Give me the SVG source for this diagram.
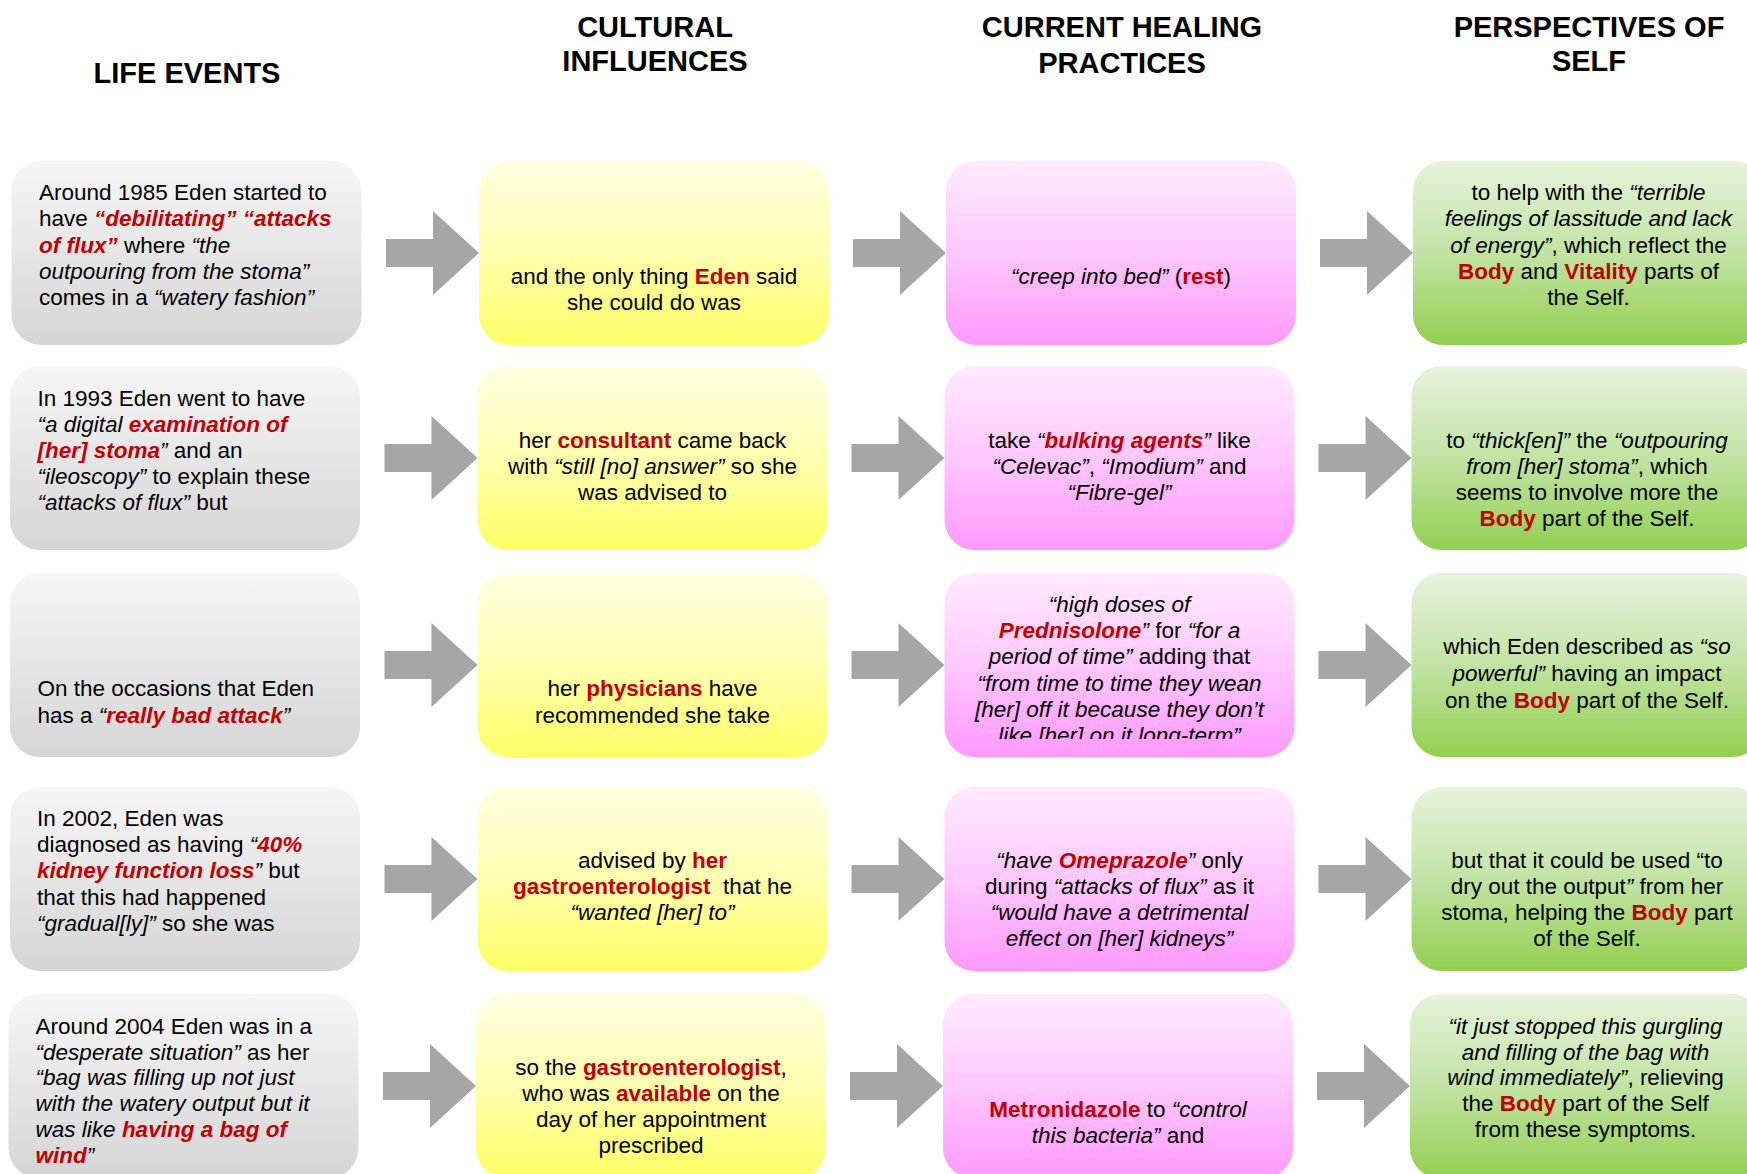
<svg xmlns="http://www.w3.org/2000/svg" width="1747" height="1174" viewBox="0 0 1747 1174">
<style>
text{font-family:"Liberation Sans",Arial,sans-serif;font-size:22.5px;fill:#000}
.h{font-size:29px;font-weight:bold;text-anchor:middle}
.c{text-anchor:middle}
.i{font-style:italic}
.r{font-weight:bold;fill:#c00000}
.ri{font-weight:bold;font-style:italic;fill:#c00000}
.arrow{fill:#a6a6a6}
</style>
<defs>
<linearGradient id="gGray" x1="0" y1="0" x2="0" y2="1"><stop offset="0" stop-color="#f6f6f6"/><stop offset="1" stop-color="#d5d5d5"/></linearGradient>
<linearGradient id="gYel" x1="0" y1="0" x2="0" y2="1"><stop offset="0" stop-color="#ffffe2"/><stop offset="0.5" stop-color="#ffffb0"/><stop offset="1" stop-color="#ffff66"/></linearGradient>
<linearGradient id="gPink" x1="0" y1="0" x2="0" y2="1"><stop offset="0" stop-color="#ffebff"/><stop offset="0.5" stop-color="#ffc8ff"/><stop offset="1" stop-color="#ff99ff"/></linearGradient>
<linearGradient id="gGreen" x1="0" y1="0" x2="0" y2="1"><stop offset="0" stop-color="#e7f3dc"/><stop offset="0.5" stop-color="#c2e3a4"/><stop offset="1" stop-color="#92d050"/></linearGradient>
<path id="arr" d="M386,239 H433 V211 L479,253 L433,295 V267 H386 Z"/>
<clipPath id="clipR3C3"><rect x="940" y="573" width="360" height="166"/></clipPath>
</defs>
<rect width="1747" height="1174" fill="#fff"/>

<g id="headers">
<text class="h" x="187" y="83">LIFE EVENTS</text>
<text class="h" x="655" y="37">CULTURAL</text>
<text class="h" x="655" y="71">INFLUENCES</text>
<text class="h" x="1122" y="37">CURRENT HEALING</text>
<text class="h" x="1122" y="72.5">PRACTICES</text>
<text class="h" x="1589" y="37">PERSPECTIVES OF</text>
<text class="h" x="1589" y="71">SELF</text>
</g>

<g id="connectors" class="arrow">
<use href="#arr"/>
<use href="#arr" transform="translate(467,0)"/>
<use href="#arr" transform="translate(934,0)"/>
<use href="#arr" transform="translate(-1.5,205)"/>
<use href="#arr" transform="translate(465.5,205)"/>
<use href="#arr" transform="translate(932.5,205)"/>
<use href="#arr" transform="translate(-1.5,412)"/>
<use href="#arr" transform="translate(465.5,412)"/>
<use href="#arr" transform="translate(932.5,412)"/>
<use href="#arr" transform="translate(-1.5,626)"/>
<use href="#arr" transform="translate(465.5,626)"/>
<use href="#arr" transform="translate(932.5,626)"/>
<use href="#arr" transform="translate(-3,833)"/>
<use href="#arr" transform="translate(464,833)"/>
<use href="#arr" transform="translate(931,833)"/>
</g>

<!-- Row 1 -->
<g id="r1c1">
<rect x="11.5" y="161" width="350" height="184" rx="30" fill="url(#gGray)"/>
<text><tspan x="39" y="199.5">Around 1985 Eden started to</tspan><tspan x="39" y="226">have <tspan class="ri">“debilitating” “attacks</tspan></tspan><tspan x="39" y="252.5"><tspan class="ri">of flux”</tspan> where <tspan class="i">“the</tspan></tspan><tspan x="39" y="279" class="i">outpouring from the stoma”</tspan><tspan x="39" y="305">comes in a <tspan class="i">“watery fashion”</tspan></tspan></text>
</g>
<g id="r1c2">
<rect x="479" y="161" width="350" height="184" rx="30" fill="url(#gYel)"/>
<text class="c"><tspan x="654" y="284.3">and the only thing <tspan class="r">Eden</tspan> said</tspan><tspan x="654" y="310.3">she could do was</tspan></text>
</g>
<g id="r1c3">
<rect x="946" y="161" width="350" height="184" rx="30" fill="url(#gPink)"/>
<text class="c"><tspan x="1121" y="284.3"><tspan class="i">“creep into bed”</tspan> (<tspan class="r">rest</tspan>)</tspan></text>
</g>
<g id="r1c4">
<rect x="1413" y="161" width="351" height="184" rx="30" fill="url(#gGreen)"/>
<text class="c"><tspan x="1588.5" y="199.5">to help with the <tspan class="i">“terrible</tspan></tspan><tspan x="1588.5" y="226" class="i">feelings of lassitude and lack</tspan><tspan x="1588.5" y="252.5"><tspan class="i">of energy”</tspan>, which reflect the</tspan><tspan x="1588.5" y="279"><tspan class="r">Body</tspan> and <tspan class="r">Vitality</tspan> parts of</tspan><tspan x="1588.5" y="305">the Self.</tspan></text>
</g>

<!-- Row 2 -->
<g id="r2c1">
<rect x="10" y="366" width="350" height="184" rx="30" fill="url(#gGray)"/>
<text><tspan x="37.5" y="405.5">In 1993 Eden went to have</tspan><tspan x="37.5" y="431.6"><tspan class="i">“a digital </tspan><tspan class="ri">examination of</tspan></tspan><tspan x="37.5" y="457.7"><tspan class="ri">[her] stoma</tspan><tspan class="i">”</tspan> and an</tspan><tspan x="37.5" y="483.7"><tspan class="i">“ileoscopy”</tspan> to explain these</tspan><tspan x="37.5" y="509.5"><tspan class="i">“attacks of flux”</tspan> but</tspan></text>
</g>
<g id="r2c2">
<rect x="477.5" y="366" width="350" height="184" rx="30" fill="url(#gYel)"/>
<text class="c"><tspan x="652.5" y="447.6">her <tspan class="r">consultant</tspan> came back</tspan><tspan x="652.5" y="473.6">with <tspan class="i">“still [no] answer”</tspan> so she</tspan><tspan x="652.5" y="499.5">was advised to</tspan></text>
</g>
<g id="r2c3">
<rect x="944.5" y="366" width="350" height="184" rx="30" fill="url(#gPink)"/>
<text class="c"><tspan x="1119.5" y="447.6">take <tspan class="i">“</tspan><tspan class="ri">bulking agents</tspan><tspan class="i">”</tspan> like</tspan><tspan x="1119.5" y="473.6"><tspan class="i">“Celevac”</tspan>, <tspan class="i">“Imodium”</tspan> and</tspan><tspan x="1119.5" y="499.5" class="i">“Fibre-gel”</tspan></text>
</g>
<g id="r2c4">
<rect x="1411.5" y="366" width="351" height="184" rx="30" fill="url(#gGreen)"/>
<text class="c"><tspan x="1587" y="447.6">to <tspan class="i">“thick[en]”</tspan> the <tspan class="i">“outpouring</tspan></tspan><tspan x="1587" y="473.6"><tspan class="i">from [her] stoma”</tspan>, which</tspan><tspan x="1587" y="499.5">seems to involve more the</tspan><tspan x="1587" y="525.5"><tspan class="r">Body</tspan> part of the Self.</tspan></text>
</g>

<!-- Row 3 -->
<g id="r3c1">
<rect x="10" y="573" width="350" height="184" rx="30" fill="url(#gGray)"/>
<text><tspan x="37.5" y="696">On the occasions that Eden</tspan><tspan x="37.5" y="722.5">has a <tspan class="i">“</tspan><tspan class="ri">really bad attack</tspan><tspan class="i">”</tspan></tspan></text>
</g>
<g id="r3c2">
<rect x="477.5" y="573" width="350" height="184" rx="30" fill="url(#gYel)"/>
<text class="c"><tspan x="652.5" y="696">her <tspan class="r">physicians</tspan> have</tspan><tspan x="652.5" y="722.5">recommended she take</tspan></text>
</g>
<g id="r3c3">
<rect x="944.5" y="573" width="350" height="184" rx="30" fill="url(#gPink)"/>
<text class="c" clip-path="url(#clipR3C3)"><tspan x="1119.5" y="611.6" class="i">“high doses of</tspan><tspan x="1119.5" y="638"><tspan class="ri">Prednisolone</tspan><tspan class="i">”</tspan> for <tspan class="i">“for a</tspan></tspan><tspan x="1119.5" y="664.3"><tspan class="i">period of time”</tspan> adding that</tspan><tspan x="1119.5" y="690.5" class="i">“from time to time they wean</tspan><tspan x="1119.5" y="716.7" class="i">[her] off it because they don’t</tspan><tspan x="1119.5" y="743" class="i">like [her] on it long-term”</tspan></text>
</g>
<g id="r3c4">
<rect x="1411.5" y="573" width="351" height="184" rx="30" fill="url(#gGreen)"/>
<text class="c"><tspan x="1587" y="654.3">which Eden described as <tspan class="i">“so</tspan></tspan><tspan x="1587" y="681"><tspan class="i">powerful”</tspan> having an impact</tspan><tspan x="1587" y="707.6">on the <tspan class="r">Body</tspan> part of the Self.</tspan></text>
</g>

<!-- Row 4 -->
<g id="r4c1">
<rect x="10" y="787" width="350" height="184" rx="30" fill="url(#gGray)"/>
<text><tspan x="37" y="826">In 2002, Eden was</tspan><tspan x="37" y="852.4">diagnosed as having <tspan class="i">“</tspan><tspan class="ri">40%</tspan></tspan><tspan x="37" y="878.4"><tspan class="ri">kidney function loss</tspan><tspan class="i">”</tspan> but</tspan><tspan x="37" y="904.5">that this had happened</tspan><tspan x="37" y="931"><tspan class="i">“gradual[ly]”</tspan> so she was</tspan></text>
</g>
<g id="r4c2">
<rect x="477.5" y="787" width="350" height="184" rx="30" fill="url(#gYel)"/>
<text class="c"><tspan x="652.5" y="868.3">advised by <tspan class="r">her</tspan></tspan><tspan x="652.5" y="894.3"><tspan class="r">gastroenterologist</tspan>&#160; that he</tspan><tspan x="652.5" y="920.3" class="i">“wanted [her] to”</tspan></text>
</g>
<g id="r4c3">
<rect x="944.5" y="787" width="350" height="184" rx="30" fill="url(#gPink)"/>
<text class="c"><tspan x="1119.5" y="868.3"><tspan class="i">“have </tspan><tspan class="ri">Omeprazole</tspan><tspan class="i">”</tspan> only</tspan><tspan x="1119.5" y="894.3">during <tspan class="i">“attacks of flux”</tspan> as it</tspan><tspan x="1119.5" y="920.3" class="i">“would have a detrimental</tspan><tspan x="1119.5" y="946" class="i">effect on [her] kidneys”</tspan></text>
</g>
<g id="r4c4">
<rect x="1411.5" y="787" width="351" height="184" rx="30" fill="url(#gGreen)"/>
<text class="c"><tspan x="1587" y="868.3">but that it could be used “to</tspan><tspan x="1587" y="894.3">dry out the output<tspan class="i">”</tspan> from her</tspan><tspan x="1587" y="920.3">stoma, helping the <tspan class="r">Body</tspan> part</tspan><tspan x="1587" y="946">of the Self.</tspan></text>
</g>

<!-- Row 5 -->
<g id="r5c1">
<rect x="8.5" y="994" width="350" height="184" rx="30" fill="url(#gGray)"/>
<text><tspan x="35.6" y="1033.6"><tspan>Around 2004 Eden was in a</tspan></tspan><tspan x="35.6" y="1059.5"><tspan class="i">“desperate situation”</tspan> as her</tspan><tspan x="35.6" y="1085.3" class="i">“bag was filling up not just</tspan><tspan x="35.6" y="1111.2" class="i">with the watery output but it</tspan><tspan x="35.6" y="1137"><tspan class="i">was like </tspan><tspan class="ri">having a bag of</tspan></tspan><tspan x="35.6" y="1162.8"><tspan class="ri">wind</tspan><tspan class="i">”</tspan></tspan></text>
</g>
<g id="r5c2">
<rect x="476" y="994" width="350" height="184" rx="30" fill="url(#gYel)"/>
<text class="c"><tspan x="651" y="1075">so the <tspan class="r">gastroenterologist</tspan>,</tspan><tspan x="651" y="1101">who was <tspan class="r">available</tspan> on the</tspan><tspan x="651" y="1127.4">day of her appointment</tspan><tspan x="651" y="1153.4">prescribed</tspan></text>
</g>
<g id="r5c3">
<rect x="943" y="994" width="350" height="184" rx="30" fill="url(#gPink)"/>
<text class="c"><tspan x="1118" y="1117"><tspan class="r">Metronidazole</tspan> to <tspan class="i">“control</tspan></tspan><tspan x="1118" y="1142.8"><tspan class="i">this bacteria”</tspan> and</tspan></text>
</g>
<g id="r5c4">
<rect x="1410" y="994" width="351" height="184" rx="30" fill="url(#gGreen)"/>
<text class="c"><tspan x="1585.5" y="1033.6" class="i">“it just stopped this gurgling</tspan><tspan x="1585.5" y="1059.5" class="i">and filling of the bag with</tspan><tspan x="1585.5" y="1085.3"><tspan class="i">wind immediately”</tspan>, relieving</tspan><tspan x="1585.5" y="1111.2">the <tspan class="r">Body</tspan> part of the Self</tspan><tspan x="1585.5" y="1137">from these symptoms.</tspan></text>
</g>
</svg>
